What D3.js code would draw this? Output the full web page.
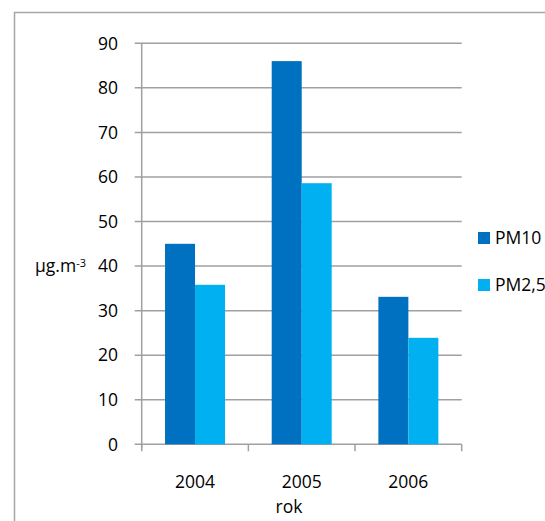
<!DOCTYPE html>
<html><head><meta charset="utf-8">
<script src="https://cdn.jsdelivr.net/npm/d3@7"></script>
<style>body{margin:0;background:#fff;overflow:hidden}svg{display:block}</style>
</head><body>
<script>
const years = ["2004", "2005", "2006"];
const seriesNames = ["PM10", "PM2,5"];
const pm10 = [45.0, 86.0, 33.1];
const pm25 = [35.8, 58.6, 23.9];
const yTicks = [0, 10, 20, 30, 40, 50, 60, 70, 80, 90];
const colors = ["#0070C0", "#00B0F0"];

const W = 545, H = 521;
const svg = d3.select("body").append("svg").attr("width", W).attr("height", H);
const font = "'Open Sans', 'Liberation Sans', sans-serif";
const fs = 17.5;

// outer chart border
svg.append("rect").attr("x", 14.5).attr("y", 12.5).attr("width", 600).attr("height", 600)
  .attr("fill", "none").attr("stroke", "#a6a6a6").attr("stroke-width", 1.5);

const x0 = 141.7, x1 = 461.7, yTop = 43.3, yBot = 444.3;
const x = d3.scaleBand().domain(years).range([x0, x1]).paddingInner(0).paddingOuter(0);
const y = d3.scaleLinear().domain([0, 90]).range([yBot, yTop]);
const inner = d3.scaleBand().domain(seriesNames).range([0, x.bandwidth()]).paddingInner(0).paddingOuter(0.778);

// gridlines
svg.append("g").selectAll("line").data(yTicks).join("line")
  .attr("x1", x0 - 7).attr("x2", x1).attr("y1", d => y(d)).attr("y2", d => y(d))
  .attr("stroke", "#a0a0a0").attr("stroke-width", 1.5);

// y axis line
svg.append("line").attr("x1", x0).attr("x2", x0).attr("y1", yTop).attr("y2", yBot + 4)
  .attr("stroke", "#a0a0a0").attr("stroke-width", 1.5);

// y tick labels
svg.append("g").selectAll("text").data(yTicks).join("text")
  .attr("x", 118).attr("y", d => y(d)).attr("dy", "0.36em").attr("text-anchor", "end")
  .attr("font-family", font).attr("font-size", fs).attr("fill", "#000").text(d => d);

// x category ticks
const xTickPos = years.map(d => x(d)).concat([x1]);
svg.append("g").selectAll("line").data(xTickPos).join("line")
  .attr("x1", d => d).attr("x2", d => d).attr("y1", yBot).attr("y2", yBot + 7)
  .attr("stroke", "#a0a0a0").attr("stroke-width", 1.5);

// bars
const data = years.map((yr, i) => ({ yr, vals: [pm10[i], pm25[i]] }));
const groups = svg.append("g").selectAll("g").data(data).join("g")
  .attr("transform", d => `translate(${x(d.yr)},0)`);
groups.selectAll("rect").data(d => d.vals.map((v, j) => ({ v, s: seriesNames[j], j })))
  .join("rect")
  .attr("x", d => inner(d.s)).attr("width", inner.bandwidth())
  .attr("y", d => y(d.v)).attr("height", d => y(0) - y(d.v))
  .attr("fill", d => colors[d.j]);

// x labels
svg.append("g").selectAll("text").data(years).join("text")
  .attr("x", d => x(d) + x.bandwidth() / 2).attr("y", 488).attr("text-anchor", "middle")
  .attr("font-family", font).attr("font-size", fs).attr("fill", "#000").text(d => d);

svg.append("text").attr("x", 289).attr("y", 513).attr("text-anchor", "middle")
  .attr("font-family", font).attr("font-size", fs).attr("fill", "#000").text("rok");

// y axis title
const yt = svg.append("text").attr("x", 35).attr("y", y(40)).attr("dy", "0.36em")
  .attr("font-family", font).attr("font-size", fs).attr("fill", "#000");
yt.append("tspan").text("µg.m");
yt.append("tspan").attr("dy", "-0.5em").attr("font-size", 11).text("-3");

// legend
const leg = svg.append("g").selectAll("g").data(seriesNames).join("g")
  .attr("transform", (d, i) => `translate(478,${232 + i * 47})`);
leg.append("rect").attr("width", 12).attr("height", 12).attr("fill", (d, i) => colors[i]);
leg.append("text").attr("x", 17).attr("y", 6).attr("dy", "0.36em")
  .attr("font-family", font).attr("font-size", fs).attr("fill", "#000").text(d => d);
</script>
</body></html>
